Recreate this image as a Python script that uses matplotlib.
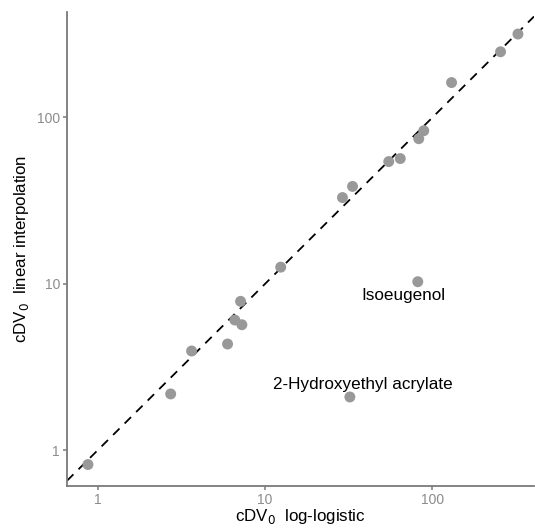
import matplotlib
matplotlib.use("Agg")
import matplotlib.pyplot as plt
from matplotlib.ticker import FixedLocator, NullLocator, FixedFormatter

plt.rcParams['font.family'] = ['Liberation Sans', 'DejaVu Sans']

# cDV0 values (log-logistic vs linear interpolation)
loglogistic = [0.875, 2.73, 3.64, 5.97, 6.60, 7.27, 7.14, 12.4, 29.0, 33.3,
               54.8, 64.2, 82.8, 88.7, 130, 255, 324, 81.7, 32.1]
linear_interp = [0.821, 2.18, 3.95, 4.35, 6.06, 5.68, 7.85, 12.6, 33.0, 38.5,
                 54.3, 56.6, 74.5, 83.2, 162, 248, 317, 10.3, 2.09]
labels = {17: "Isoeugenol", 18: "2-Hydroxyethyl acrylate"}
label_offsets = {17: (-14, -14), 18: (13, 12)}

ticks = [1, 10, 100]
tick_labels = ["1", "10", "100"]

grey_axis = "#7a7a7a"

fig = plt.figure(figsize=(5.35, 5.29), dpi=100)
ax = fig.add_axes([67 / 535, 43 / 529, 467 / 535, 474 / 529])

ax.set_xscale("log")
ax.set_yscale("log")
ax.set_xlim(0.656, 404)
ax.set_ylim(0.61, 430)

ax.axline((1, 1), (10, 10), color="black", linestyle=(0, (5, 4)), linewidth=1.3, zorder=1)
ax.scatter(loglogistic, linear_interp, s=62, color="#999999", edgecolors="none", zorder=2)

for i, txt in labels.items():
    ax.annotate(txt, (loglogistic[i], linear_interp[i]), xytext=label_offsets[i],
                textcoords="offset pixels", ha="center", va="center", fontsize=12.3)

for axis in (ax.xaxis, ax.yaxis):
    axis.set_major_locator(FixedLocator(ticks))
    axis.set_major_formatter(FixedFormatter(tick_labels))
    axis.set_minor_locator(NullLocator())

ax.tick_params(colors=grey_axis, labelcolor="#8c8c8c", labelsize=10, length=3, width=1.1, pad=2)
for s in ("top", "right"):
    ax.spines[s].set_visible(False)
for s in ("left", "bottom"):
    ax.spines[s].set_color(grey_axis)
    ax.spines[s].set_linewidth(1.3)

ax.set_xlabel(r"cDV$_0$  log-logistic", fontsize=12.2, labelpad=0)
ax.set_ylabel(r"cDV$_0$  linear interpolation", fontsize=12.2, labelpad=4)

fig.savefig("out.png", dpi=100)
